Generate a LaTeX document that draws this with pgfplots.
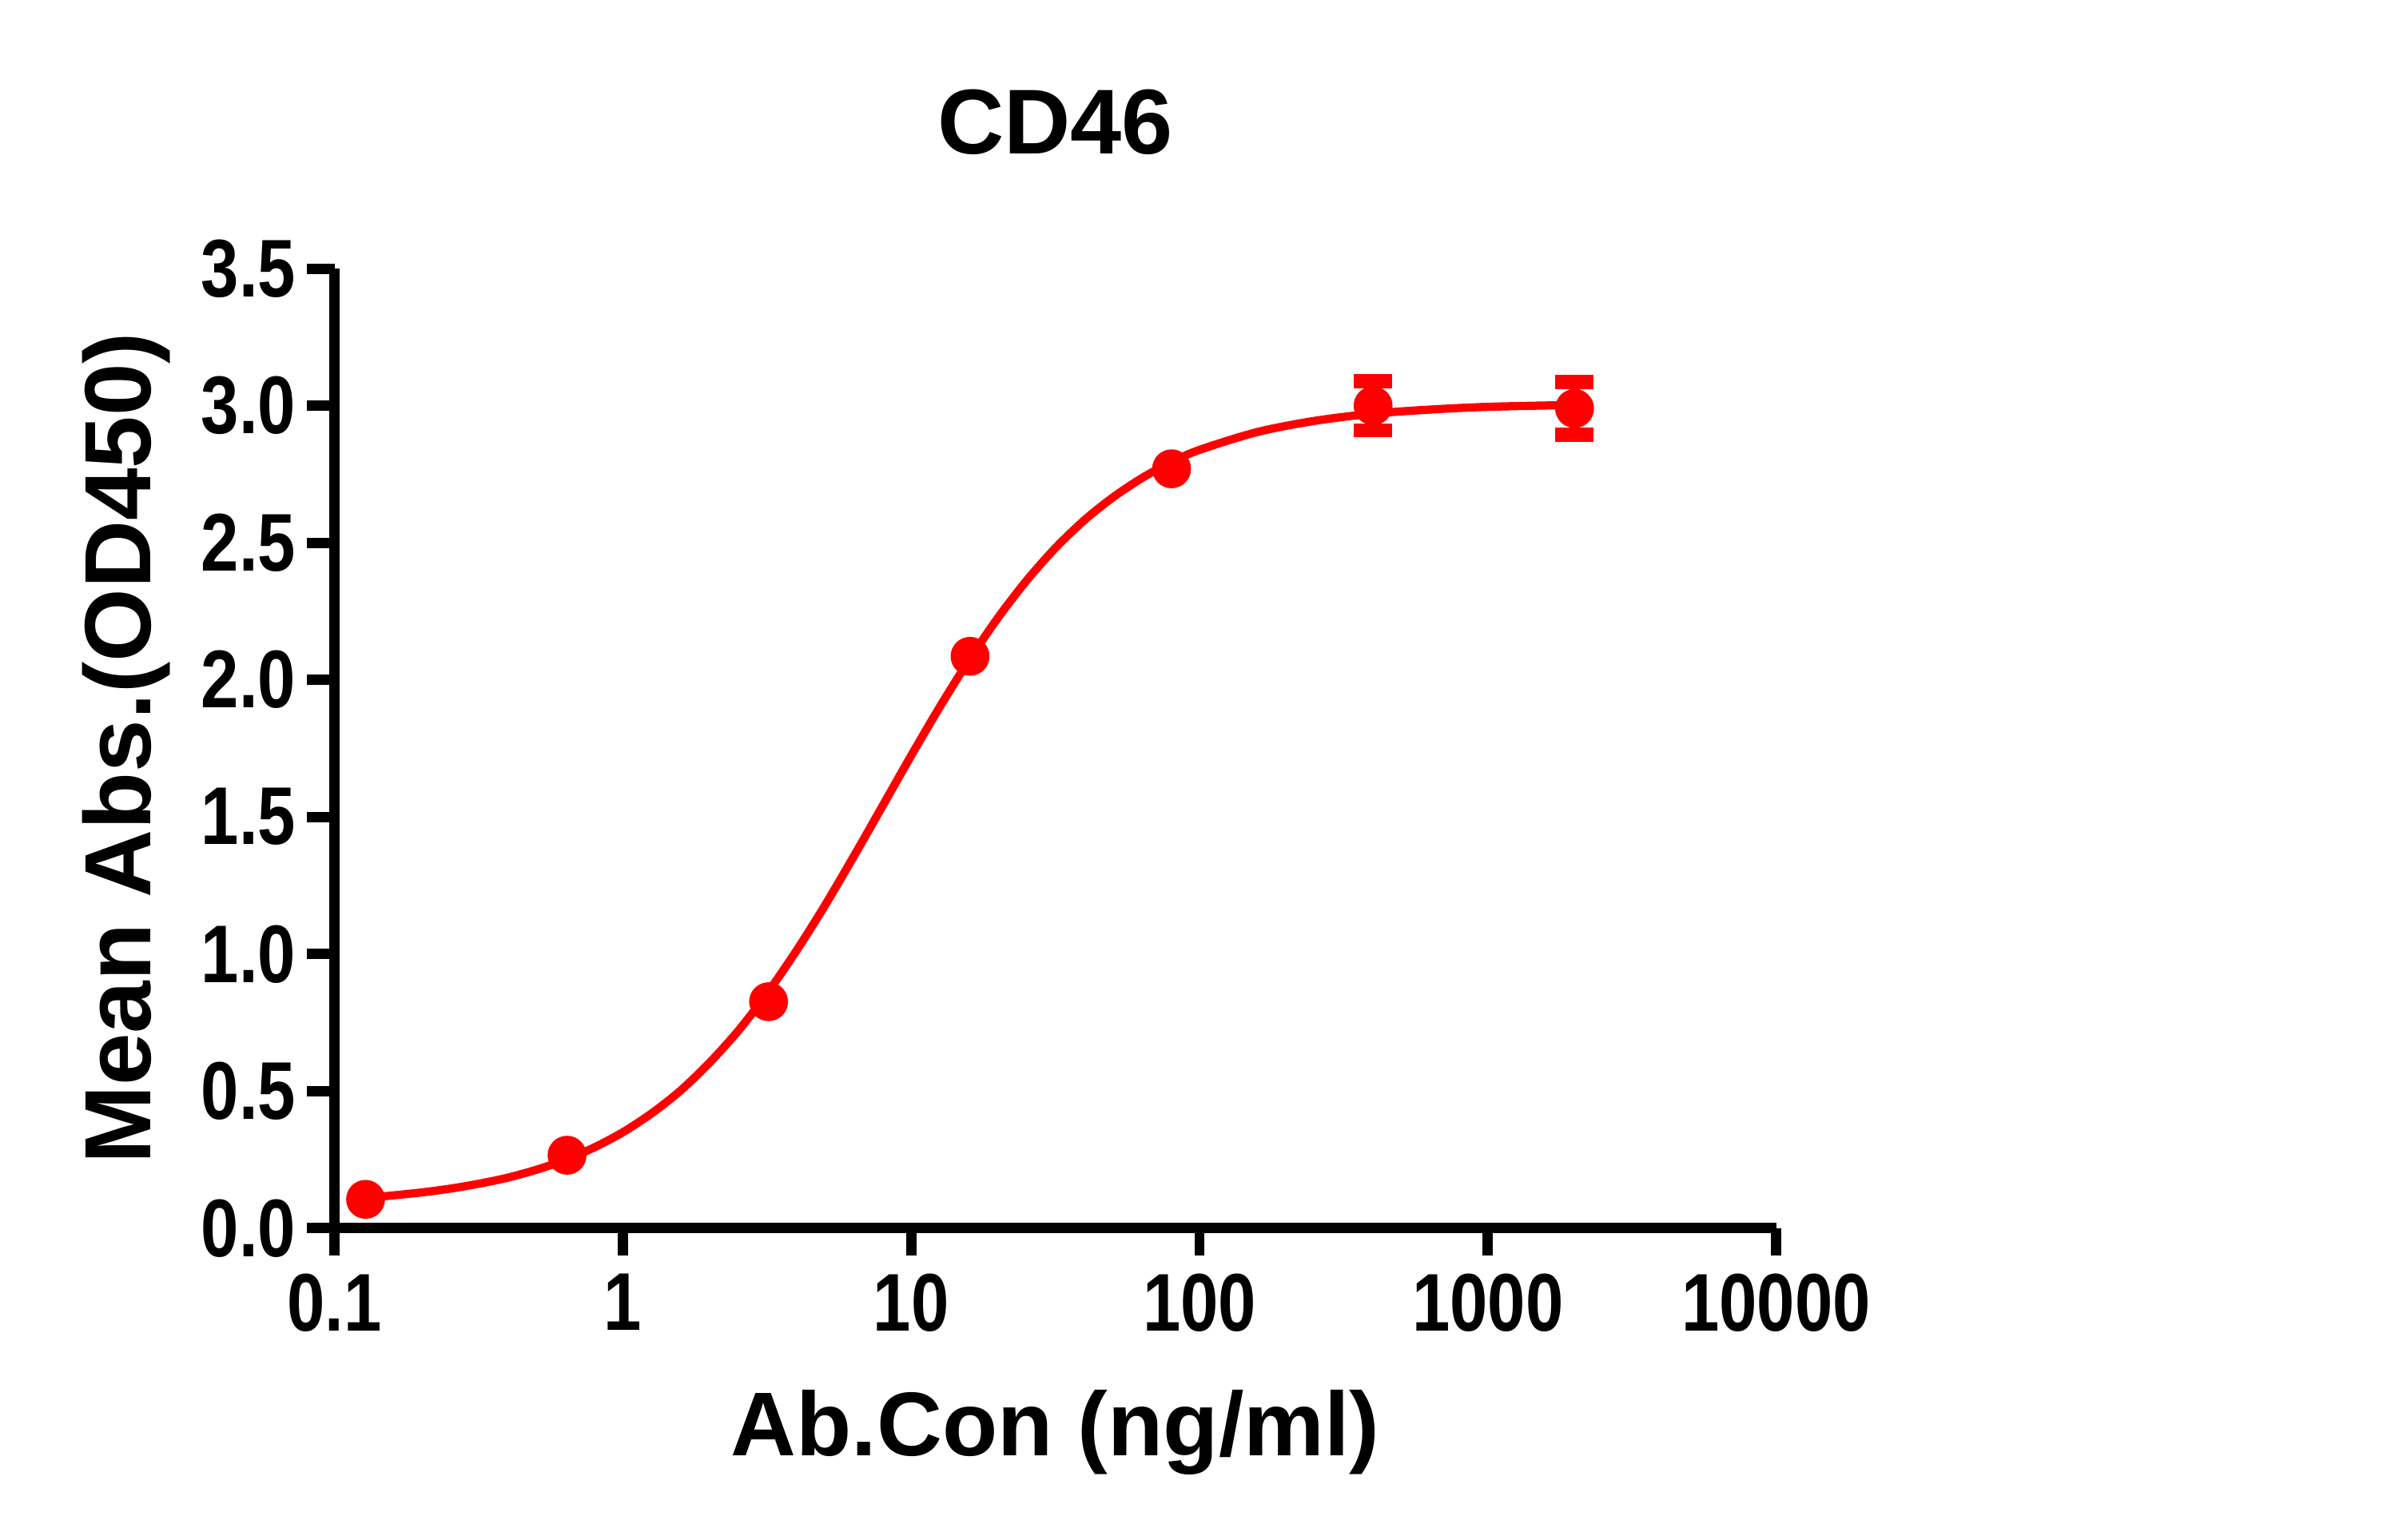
\documentclass[border=0pt]{standalone}
\usepackage{fontspec}
\setmainfont{Liberation Sans}
\newfontfamily\tickfont{Liberation Sans}[FakeStretch=0.83]
\usepackage{pgfplots}
\pgfplotsset{compat=1.18}
\begin{document}
\begin{tikzpicture}[x=1pt,y=1pt]
\useasboundingbox (0,0) rectangle (470.4,300.9);
\begin{axis}[
  at={(65.4pt,60.9pt)}, anchor=south west,
  scale only axis, width=281.7pt, height=187.5pt,
  xmode=log, xmin=0.1, xmax=10000, ymin=0, ymax=3.5,
  axis x line=bottom, axis y line=left,
  axis line style={line width=2pt, -},
  xtick={0.1,1,10,100,1000,10000},
  xticklabels={0.1,1,10,100,1000,10000},
  xminorticks=false,
  ytick={0,0.5,1,1.5,2,2.5,3,3.5},
  yticklabels={0.0,0.5,1.0,1.5,2.0,2.5,3.0,3.5},
  tick align=outside,
  major tick length=5.4pt,
  tick style={line width=2pt, black},
  ticklabel style={font=\tickfont\bfseries\fontsize{16}{16}\selectfont},
  xticklabel style={yshift=0pt},
  yticklabel style={xshift=1.3pt},
  clip=false,
  title={CD46},
  title style={font=\bfseries\fontsize{18}{20}\selectfont, at={([yshift=16.5pt]axis description cs:0.5,1)}, anchor=base},
  xlabel={Ab.Con (ng/ml)},
  xlabel style={font=\bfseries\fontsize{17.7}{20}\selectfont, at={([yshift=-44.4pt]axis description cs:0.5,0)}, anchor=base},
  ylabel={Mean Abs.(OD450)},
  ylabel style={font=\bfseries\fontsize{18.4}{20}\selectfont, at={([xshift=-36pt]axis description cs:0,0.5)}, anchor=base, rotate=0},
]
\addplot[red, line width=1.6pt, smooth, no marks] coordinates {
(0.128,0.110) (0.158,0.119) (0.1995,0.130) (0.2512,0.144) (0.3162,0.162)
(0.3981,0.184) (0.5012,0.213) (0.631,0.249) (0.794,0.294) (1,0.350)
(1.259,0.419) (1.585,0.502) (1.995,0.603) (2.512,0.720) (3.162,0.856)
(3.981,1.009) (5.012,1.176) (6.31,1.355) (7.943,1.539) (10,1.724)
(12.59,1.903) (15.85,2.071) (19.95,2.225) (25.12,2.362) (31.62,2.481)
(39.81,2.582) (50.12,2.666) (63.1,2.736) (79.43,2.793) (100,2.839)
(158.5,2.904) (251.2,2.945) (398.1,2.971) (631,2.986) (1000,2.996) (2000,3.003)
};
\addplot[red, only marks, mark=*, mark size=3.6pt] coordinates {
(0.128,0.105) (0.64,0.266) (3.2,0.826) (16,2.086) (80,2.77)
};
\addplot[red, only marks, mark=*, mark size=3.6pt,
  error bars/.cd, y dir=both, y explicit,
  error bar style={line width=2pt, red},
  error mark options={rotate=90, mark size=3.75pt, line width=2.76pt, red}] coordinates {
(400,3.0) +- (0,0.090)
(2000,2.99) +- (0,0.096)
};
\end{axis}
\end{tikzpicture}
\end{document}
